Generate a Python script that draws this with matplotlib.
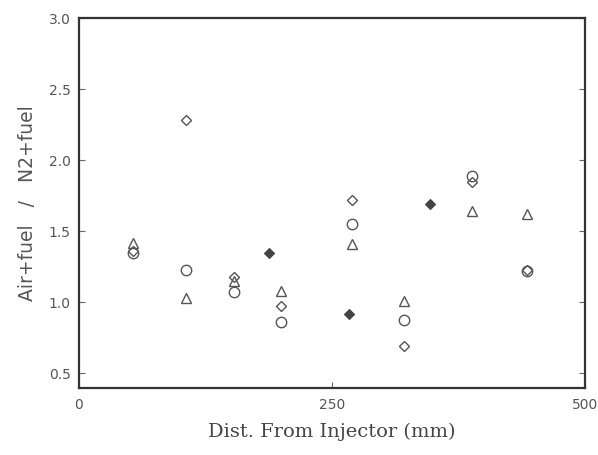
import numpy as np
import matplotlib.pyplot as plt

# distances from injector (mm) for the station groups
dist = [53, 106, 153, 200, 270, 321, 388, 443]
circles = [1.35, 1.23, 1.07, 0.86, 1.55, 0.875, 1.89, 1.22]
triangles = [1.42, 1.03, 1.15, 1.08, 1.41, 1.01, 1.64, 1.62]
diamonds = [1.36, 2.28, 1.18, 0.97, 1.72, 0.69, 1.85, 1.23]

dist_filled = [188, 267, 347]
filled_diamonds = [1.35, 0.92, 1.69]

x_ticks = [0, 250, 500]
y_ticks = [0.5, 1.0, 1.5, 2.0, 2.5, 3.0]

fig = plt.figure(figsize=(5.98, 4.55), dpi=100)
ax = fig.add_axes([0.132, 0.147, 0.846, 0.813])

edge = '#555555'
ax.plot(dist, circles, 'o', ms=7.5, mfc='none', mec=edge, mew=1.0)
ax.plot(dist, triangles, '^', ms=7, mfc='none', mec=edge, mew=1.0)
ax.plot(dist, diamonds, 'D', ms=5.5, mfc='none', mec=edge, mew=1.0)
ax.plot(dist_filled, filled_diamonds, 'D', ms=5, mfc='#444444', mec='#444444', mew=0.8)

ax.set_xlim(0, 500)
ax.set_ylim(0.395, 3.0)
ax.set_xticks(x_ticks)
ax.set_yticks(y_ticks)
ax.set_yticklabels([f'{v:.1f}' for v in y_ticks])

ax.tick_params(direction='in', length=4, width=0.8, color='#666666',
               labelsize=10, labelcolor='#555555', right=True, top=False)
ax.tick_params(axis='x', pad=7)
ax.tick_params(axis='y', pad=6)
for s in ax.spines.values():
    s.set_linewidth(1.6)
    s.set_color('#333333')

ax.set_xlabel('Dist. From Injector (mm)', family='DejaVu Serif', fontsize=14,
              color='#444444', labelpad=8)
ax.set_ylabel('Air+fuel   /   N2+fuel', family='DejaVu Sans', fontsize=13.5,
              color='#555555', labelpad=8)

fig.savefig('out.png', dpi=100)
